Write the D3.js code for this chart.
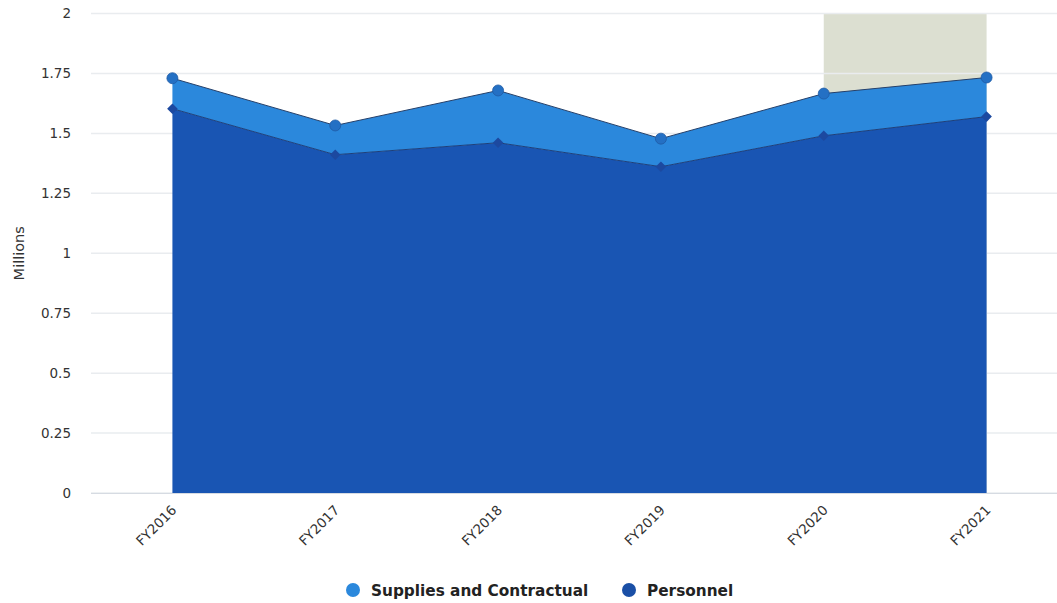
<!DOCTYPE html>
<html><head><meta charset="utf-8">
<script src="https://cdn.jsdelivr.net/npm/d3@7"></script>
<style>body{margin:0;background:#fff;}svg{display:block;font-family:"DejaVu Sans",Verdana,sans-serif;}</style>
</head><body><svg id="c" width="1057" height="603"></svg>
<script>
const categories = ["FY2016","FY2017","FY2018","FY2019","FY2020","FY2021"];
const personnel = [1.603, 1.411, 1.461, 1.361, 1.490, 1.570];
const supplies  = [0.127, 0.122, 0.218, 0.117, 0.176, 0.163];
const yTicks = [0, 0.25, 0.5, 0.75, 1, 1.25, 1.5, 1.75, 2];
const yTickLabels = ["0","0.25","0.5","0.75","1","1.25","1.5","1.75","2"];
const seriesNames = ["Supplies and Contractual","Personnel"];
const bandRange = ["FY2020","FY2021"];

(function(){
const svg = d3.select("#c");
const pLeft = 91, pRight = 1068, pTop = 13.5, pBottom = 493;
const x = d3.scaleBand().domain(categories).range([pLeft, pRight]);
const cx = c => x(c) + x.bandwidth()/2;
const y = d3.scaleLinear().domain([0, 2]).range([pBottom, pTop]);

// plot band
svg.append("rect").attr("x", cx(bandRange[0])).attr("width", cx(bandRange[1]) - cx(bandRange[0]))
  .attr("y", y(2)).attr("height", y(0) - y(2)).attr("fill", "#dcdfd1");

// grid
svg.append("g").selectAll("line").data(yTicks).join("line")
  .attr("x1", pLeft).attr("x2", pRight).attr("y1", d => y(d)).attr("y2", d => y(d))
  .attr("stroke", "#e9ecef").attr("stroke-width", 1.5);

const data = categories.map((c,i) => ({c, p: personnel[i], s: supplies[i]}));

const areaP = d3.area().x(d => cx(d.c)).y0(y(0)).y1(d => y(d.p));
const areaS = d3.area().x(d => cx(d.c)).y0(d => y(d.p)).y1(d => y(d.p + d.s));
svg.append("path").datum(data).attr("d", areaP).attr("fill", "#1955b3");
svg.append("path").datum(data).attr("d", areaS).attr("fill", "#2b88dc");
svg.append("path").datum(data).attr("d", d3.line().x(d => cx(d.c)).y(d => y(d.p)))
  .attr("fill","none").attr("stroke","#1d3f7a").attr("stroke-width",1);
svg.append("path").datum(data).attr("d", d3.line().x(d => cx(d.c)).y(d => y(d.p + d.s)))
  .attr("fill","none").attr("stroke","#25406a").attr("stroke-width",1);

// x axis line
svg.append("line").attr("x1", pLeft).attr("x2", pRight).attr("y1", y(0)+0.5).attr("y2", y(0)+0.5)
  .attr("stroke","#d6dbe2").attr("stroke-width",1);

// markers
svg.append("g").selectAll("path").data(data).join("path")
  .attr("d", d3.symbol(d3.symbolSquare, 56)())
  .attr("transform", d => `translate(${cx(d.c)},${y(d.p)}) rotate(45)`).attr("fill", "#1c49a0");
svg.append("g").selectAll("circle").data(data).join("circle")
  .attr("cx", d => cx(d.c)).attr("cy", d => y(d.p + d.s)).attr("r", 5.5)
  .attr("fill", "#2470c4").attr("stroke","#1f5aa5").attr("stroke-width",0.8);

// y axis labels
svg.append("g").selectAll("text").data(yTicks).join("text")
  .attr("x", 71).attr("y", d => y(d) + 4.5).attr("text-anchor","end")
  .attr("font-size", 13.5).attr("fill", "#333").text((d,i) => yTickLabels[i]);
svg.append("text").attr("transform", `translate(24,${y(1)}) rotate(-90)`)
  .attr("text-anchor","middle").attr("font-size",14.5).attr("fill","#333").text("Millions");

// x labels
svg.append("g").selectAll("text").data(categories).join("text")
  .attr("transform", c => `translate(${cx(c)+5},${y(0)+18}) rotate(-45)`)
  .attr("text-anchor","end").attr("font-size",13.5).attr("fill","#333").text(c => c);

// legend
const leg = svg.append("g");
const items = [{n: seriesNames[0], col:"#2b88dc", x:353}, {n: seriesNames[1], col:"#1a4fa6", x:629}];
items.forEach(it => {
  leg.append("circle").attr("cx", it.x).attr("cy", 590).attr("r", 7).attr("fill", it.col);
  leg.append("text").attr("x", it.x + 18).attr("y", 595.5).attr("font-size", 15.3)
    .attr("font-weight","bold").attr("fill","#222").text(it.n);
});
})();
</script></body></html>
